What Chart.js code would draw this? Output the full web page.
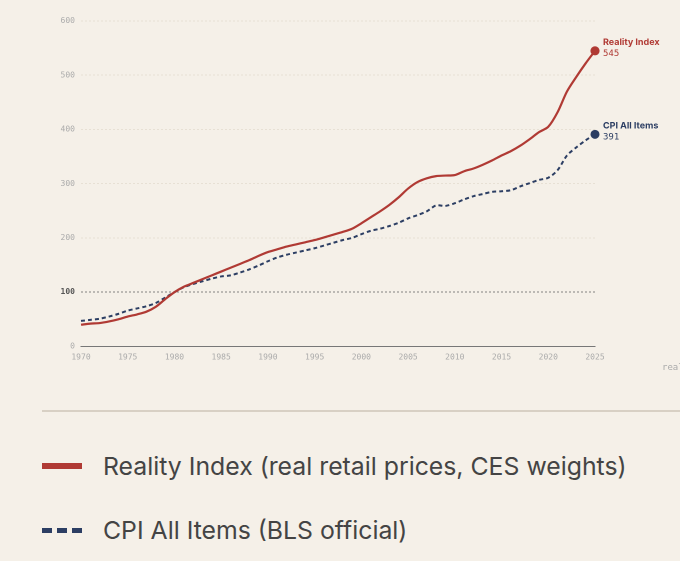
<!DOCTYPE html>
<html lang="en">
<head>
<meta charset="UTF-8">
<title>Reality Index vs CPI</title>
<script src="https://cdn.jsdelivr.net/npm/chart.js"></script>
<style>
  body { margin: 0; background: #f5f0e8; width: 680px; height: 561px; overflow: hidden; position: relative; font-family: Inter, "Noto Sans", sans-serif; }
  #wrap { position: absolute; left: 0; top: 0; width: 680px; height: 380px; }
  #src { position: absolute; left: 662px; top: 362px; font: 9px "DejaVu Sans Mono", monospace; color: #aaa; white-space: nowrap; }
  #rule { position: absolute; left: 42px; right: 0; top: 410px; border-top: 2px solid #d8d0c4; }
  .leg { position: absolute; left: 42px; display: flex; align-items: center; font-size: 24.8px; color: #444; white-space: nowrap; }
  .sw { width: 40px; margin-right: 21px; }
</style>
</head>
<body>
<div id="wrap"><canvas id="chart" width="680" height="380"></canvas></div>
<div id="src">realityindex</div>
<div id="rule"></div>
<div class="leg" style="top:451px"><div class="sw" style="border-top:6px solid #b03a34"></div>Reality Index (real retail prices, CES weights)</div>
<div class="leg" style="top:515px"><div class="sw" style="border-top:5px dashed #2c3e63"></div>CPI All Items (BLS official)</div>
<script>
// years 1970..2025
const years = [];
for (let y = 1970; y <= 2025; y++) years.push(y);

const realityIndex = [40,42,43,46,50,55,59,64,73,87,100,110,117,124,131,138,145,152,159,167,
  174,179,184,188,192,196,201,206,211,217,227,238,249,261,275,291,303,310,314,315,
  316,323,328,335,343,352,360,370,382,395,405,432,470,497,522,545];
const cpiAllItems = [47,49,51,55,60,66,70,74,80,90,100,109,115,120,125,129,131,136,142,149,
  157,164,169,173,177,181,186,191,196,200,207,213,217,222,228,236,242,249,260,259,
  264,271,277,281,285,286,288,295,301,307,311,325,352,367,380,391];
const yTicks = [0,100,200,300,400,500,600];

const RED = '#b03a34', BLUE = '#2c3e63';
const mono = "'DejaVu Sans Mono', monospace";

const lastOnly = ctx => ctx.dataIndex === years.length - 1 ? 3.5 : 0;

const endLabels = {
  id: 'endLabels',
  afterDatasetsDraw(chart) {
    const c = chart.ctx;
    const labels = [['Reality Index', RED], ['CPI All Items', BLUE]];
    chart.data.datasets.forEach((ds, i) => {
      const pt = chart.getDatasetMeta(i).data[years.length - 1];
      const v = ds.data[years.length - 1].y;
      c.save();
      c.fillStyle = labels[i][1];
      c.font = "bold 9px Inter, 'Noto Sans', sans-serif";
      c.fillText(labels[i][0], pt.x + 8, pt.y - 6);
      c.font = "9px " + mono;
      c.fillText(String(v), pt.x + 8, pt.y + 5);
      c.restore();
    });
  }
};

new Chart(document.getElementById('chart'), {
  type: 'line',
  data: {
    datasets: [
      { data: years.map((y, i) => ({ x: y, y: realityIndex[i] })), borderColor: RED, backgroundColor: RED,
        borderWidth: 2.2, tension: 0.3, pointRadius: lastOnly, pointHoverRadius: 0, clip: false },
      { data: years.map((y, i) => ({ x: y, y: cpiAllItems[i] })), borderColor: BLUE, backgroundColor: BLUE,
        borderWidth: 2, borderDash: [4, 3], tension: 0.3, pointRadius: lastOnly, pointHoverRadius: 0, clip: false }
    ]
  },
  options: {
    responsive: false, animation: false,
    devicePixelRatio: 2,
    layout: { padding: { left: 40, right: 85, top: 21, bottom: 16 } },
    plugins: { legend: { display: false }, tooltip: { enabled: false } },
    scales: {
      x: {
        type: 'linear', min: 1970, max: 2025,
        afterBuildTicks: s => { s.ticks = years.filter(y => y % 5 === 0).map(v => ({ value: v })); },
        ticks: { font: { family: mono, size: 8 }, color: '#aaa', maxRotation: 0, padding: 2, callback: v => String(v) },
        grid: { display: false, drawTicks: true, tickLength: 4, tickColor: '#777' },
        border: { color: '#777', width: 1 }
      },
      y: {
        min: 0, max: 600,
        afterFit: s => { s.width = 41; },
        afterBuildTicks: s => { s.ticks = yTicks.map(v => ({ value: v })); },
        ticks: { font: ctx => ({ family: mono, size: 8, weight: ctx.tick && ctx.tick.value === 100 ? 'bold' : 'normal' }),
                 color: ctx => ctx.tick && ctx.tick.value === 100 ? '#555' : '#aaa', padding: 6 },
        grid: { drawTicks: false, lineWidth: 0.8,
                color: ctx => ctx.tick && ctx.tick.value === 100 ? '#666' : (ctx.tick && ctx.tick.value === 0 ? 'rgba(0,0,0,0)' : '#e4dccf') },
        border: { display: false, dash: [2, 2] }
      }
    }
  },
  plugins: [endLabels]
});
</script>
</body>
</html>
